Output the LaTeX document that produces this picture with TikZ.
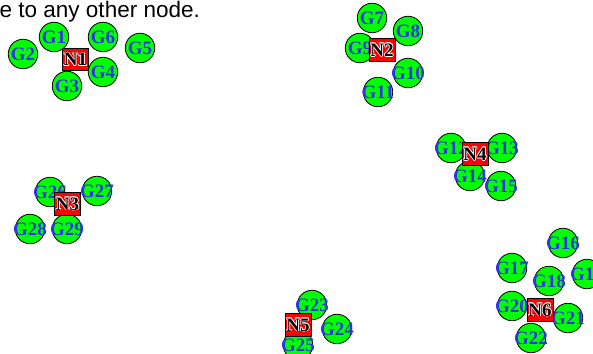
\documentclass[tikz,border=0pt]{standalone}
\usepackage{fontspec}
\setmainfont{Liberation Serif}
\newfontfamily\captionfont{Liberation Sans}

\definecolor{gfill}{RGB}{0,255,0}
\definecolor{glabel}{RGB}{51,51,230}
\definecolor{nfill}{RGB}{255,0,0}

% black text with a thin white outline (white copies behind it)
\newcommand\halotext[1]{%
  \leavevmode
  \rlap{\color{white}%
    \rlap{\kern-0.75pt#1}\rlap{\kern0.75pt#1}%
    \rlap{\raisebox{0.75pt}{#1}}\rlap{\raisebox{-0.75pt}{#1}}%
    \rlap{\kern-0.55pt\raisebox{0.55pt}{#1}}\rlap{\kern0.55pt\raisebox{0.55pt}{#1}}%
    \rlap{\kern-0.55pt\raisebox{-0.55pt}{#1}}\rlap{\kern0.55pt\raisebox{-0.55pt}{#1}}}%
  #1}
% label that does not widen its shape
\newcommand\flatlabel[1]{\makebox[0pt]{#1}}

\tikzset{
  gnode/.style={circle, draw=black, fill=gfill, line width=0.8pt,
    minimum size=29.5pt, inner sep=0pt, text=glabel,
    font=\fontsize{19}{19}\selectfont\bfseries},
  nnode/.style={rectangle, draw=black, fill=nfill, line width=0.6pt,
    minimum width=26pt, minimum height=22.5pt, inner sep=0pt, text=black,
    font=\fontsize{19}{19}\selectfont\bfseries},
  captiontext/.style={inner sep=0pt, anchor=base west,
    font=\captionfont\fontsize{22.5}{22.5}\selectfont},
}

\begin{document}
\begin{tikzpicture}[x=1pt,y=-1pt]
\useasboundingbox (0,0) rectangle (593,353);
\clip (0,0) rectangle (593,353);
\fill[white] (0,0) rectangle (593,353);

\node[captiontext] (cap) at (-0.5,17.5) {e to any other node.};

% member nodes
\foreach \name/\x/\y in {
  G1/54/37, G2/23/54, G3/67/86, G4/103/72, G5/140/48, G6/103/37,
  G7/372/18, G8/408/31, G9/360/48, G10/408/73, G11/378/92,
  G12/451/148, G13/502/148, G14/470/176, G15/501/186,
  G16/563/243, G17/512/268, G18/549/281, G19/587/274,
  G20/512/306, G21/568/318, G22/531/338,
  G23/312/305, G24/337/329, G25/298/345,
  G26/50/192, G27/97/191, G28/30/229, G29/67/229}
  \node[gnode] (\name) at (\x,\y) {\flatlabel{\name}};

% cluster heads
\foreach \name/\x/\y in {
  N1/75.5/59.5, N2/382/50, N3/67.5/204, N4/475/154, N5/298/325, N6/540/310}
  \node[nnode] (\name) at (\x,\y) {\flatlabel{\halotext{\name}}};
\end{tikzpicture}
\end{document}
